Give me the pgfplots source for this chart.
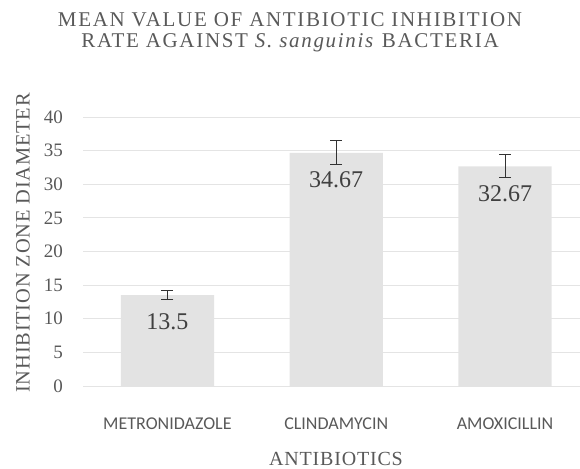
\documentclass[border=0pt]{standalone}
\usepackage{pgfplots}
\pgfplotsset{compat=1.18}
\usepackage{fontspec}
\setmainfont{Liberation Serif}
\newfontfamily\calibri{Carlito}
\definecolor{barfill}{RGB}{227,227,227}
\definecolor{gridc}{RGB}{228,228,228}
\definecolor{txt}{RGB}{89,89,89}
\definecolor{lbl}{RGB}{64,64,64}
\pgfplotstableread{
x y e lab
0 13.5 0.7 13.5
1 34.67 1.8 34.67
2 32.67 1.7 32.67
}\datatab
\begin{document}
\begin{tikzpicture}
\begin{axis}[
 at={(0,0)}, anchor=south west,
 scale only axis, width=497bp, height=269bp,
 xmin=-0.5, xmax=2.444, ymin=0, ymax=40,
 ytick={0,5,...,40},
 xtick={0,1,2}, xticklabels={METRONIDAZOLE,CLINDAMYCIN,AMOXICILLIN},
 axis line style={draw=none},
 major tick length=0,
 ymajorgrids, grid style={gridc, line width=0.9bp},
 xticklabel style={anchor=center, yshift=-38bp, font=\calibri\fontsize{18bp}{20bp}\selectfont, text=txt},
 yticklabel style={anchor=east, inner sep=0pt, xshift=-20bp, font=\fontsize{19bp}{22bp}\selectfont, text=txt},
 /pgf/number format/assume math mode=true,
 clip=false,
 ybar, bar width=93.3bp,
 nodes near coords,
 point meta=explicit symbolic,
 nodes near coords style={anchor=center, yshift=-27bp, font=\fontsize{24bp}{26bp}\selectfont, text=lbl},
]
\addplot[fill=barfill, draw=none,
  error bars/.cd, y dir=both, y explicit,
  error bar style={black!80, line width=0.9bp},
  error mark options={rotate=90, mark size=6bp, line width=0.9bp, black!80}]
 table[x=x, y=y, y error=e, meta=lab] {\datatab};
\end{axis}
\node[rotate=90, text=txt, font=\addfontfeatures{LetterSpace=4}\fontsize{20.4bp}{22bp}\selectfont] at (-60bp,143bp) {INHIBITION ZONE DIAMETER};
\node[text=txt, font=\addfontfeatures{LetterSpace=4}\fontsize{20bp}{22bp}\selectfont] at (253bp,-73bp) {ANTIBIOTICS};
\node[text=txt, font=\addfontfeatures{LetterSpace=8}\fontsize{21bp}{23bp}\selectfont] at (207bp,366bp) {MEAN VALUE OF ANTIBIOTIC INHIBITION};
\node[text=txt, font=\addfontfeatures{LetterSpace=8}\fontsize{21bp}{23bp}\selectfont] at (207bp,343bp) {RATE AGAINST \textit{S. sanguinis} BACTERIA};
\pgfresetboundingbox
\path[use as bounding box] (-83bp,-83bp) rectangle (497bp,386bp);
\end{tikzpicture}
\end{document}
